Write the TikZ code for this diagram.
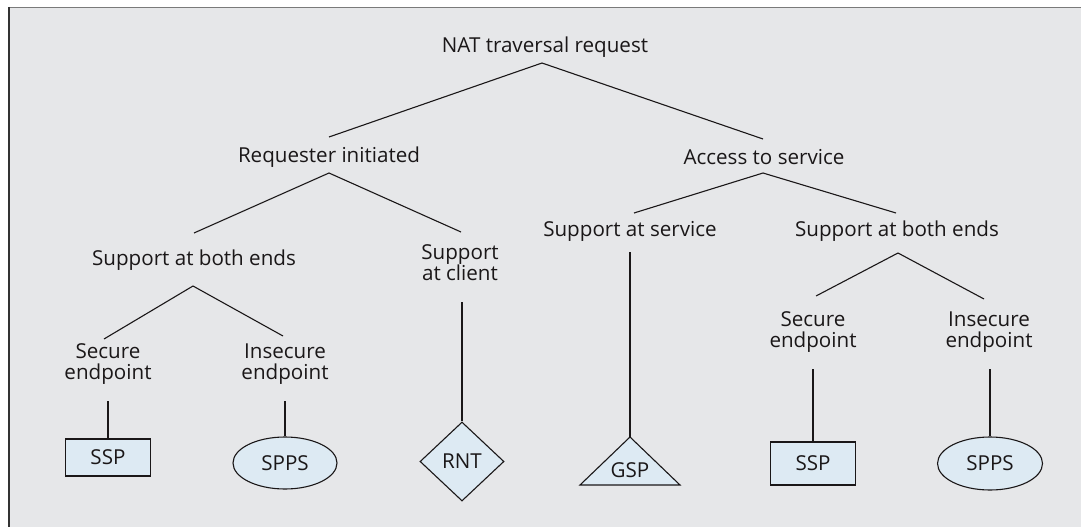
\documentclass[tikz,border=0pt]{standalone}
\usepackage{fontspec}
\setmainfont{Open Sans}
\usetikzlibrary{shapes.geometric}

\definecolor{panel}{HTML}{E6E7E9}
\definecolor{shapefill}{HTML}{DDEAF3}
\definecolor{ink}{HTML}{1A1718}
\definecolor{rulegray}{HTML}{7A7A7A}
\definecolor{ruledark}{HTML}{333333}

\tikzset{
  lbl/.style={font=\fontsize{20.6}{21}\selectfont, align=center, inner sep=0pt, text=ink},
  edge/.style={draw=ink, line width=1.1pt},
  leaf/.style={draw=ink, fill=shapefill, line width=1.1pt, inner sep=0pt,
               font=\fontsize{20.6}{21}\selectfont, text=ink},
  leafbox/.style={leaf, rectangle, minimum width=85pt},
  leafoval/.style={leaf, ellipse},
  leafdiamond/.style={leaf, diamond, minimum width=84pt, minimum height=79pt}
}

\begin{document}
\begin{tikzpicture}[x=1pt, y=-1pt]
\useasboundingbox (0,0) rectangle (1081,527);

% panel with its top and left rules
\fill[panel] (8.5,7.5) rectangle (1081,527);
\draw[rulegray, line width=1.6pt] (8,7.5) -- (1081,7.5);
\draw[ruledark, line width=1.6pt] (8.7,7) -- (8.7,527);

% ---- labels ----
\node[lbl] (nat) at (545,47)  {NAT traversal request};
\node[lbl] (req) at (329,157) {Requester initiated};
\node[lbl] (acc) at (764,157) {Access to service};
\node[lbl] (sbl) at (194,260) {Support at both ends};
\node[lbl] (scl) at (460,262.5) {Support\\at client};
\node[lbl] (sas) at (630,231) {Support at service};
\node[lbl] (sbr) at (897,231) {Support at both ends};
\node[lbl] (sel) at (108,364.5) {Secure\\endpoint};
\node[lbl] (iel) at (285,364.5) {Insecure\\endpoint};
\node[lbl] (ser) at (813,332.5) {Secure\\endpoint};
\node[lbl] (ier) at (989,332.5) {Insecure\\endpoint};

% ---- leaf shapes ----
\node[leafbox, minimum height=37pt] (ssp1) at (108,457.5) {SSP};
\node[leafoval, minimum width=104pt, minimum height=52pt] (spps1) at (285,463) {SPPS};
\node[leafdiamond] (rnt) at (462,461.5) {RNT};
\coordinate (gsptop) at (630,437);
\filldraw[draw=ink, fill=shapefill, line width=1.1pt, line join=miter]
  (gsptop) -- (680,485) -- (580,485) -- cycle;
\node[lbl] (gsp) at (630,470) {GSP};
\node[leafbox, minimum height=43pt] (ssp2) at (813,463.5) {SSP};
\node[leafoval, minimum width=105pt, minimum height=53pt] (spps2) at (990,463.5) {SPPS};

% ---- connector end points under and over the labels ----
\coordinate (nat-b) at (542,63);
\coordinate (req-t) at (329,137);
\coordinate (req-b) at (329,173);
\coordinate (acc-t) at (763,139);
\coordinate (acc-b) at (763,173);
\coordinate (sbl-t) at (194,233);
\coordinate (sbl-b) at (193,286);
\coordinate (scl-t) at (461,232);
\coordinate (scl-b) at (462,302);
\coordinate (sas-t) at (634,213);
\coordinate (sas-b) at (630,252);
\coordinate (sbr-t) at (896,213);
\coordinate (sbr-b) at (898,253);
\coordinate (sel-t) at (104,339);
\coordinate (sel-b) at (108,401);
\coordinate (iel-t) at (283,336);
\coordinate (iel-b) at (285,401);
\coordinate (ser-t) at (816,296);
\coordinate (ser-b) at (813,369);
\coordinate (ier-t) at (984,299);
\coordinate (ier-b) at (990,369);

% ---- tree connectors ----
\draw[edge] (req-t) -- (nat-b) -- (acc-t);
\draw[edge] (sbl-t) -- (req-b) -- (scl-t);
\draw[edge] (sas-t) -- (acc-b) -- (sbr-t);
\draw[edge] (sel-t) -- (sbl-b) -- (iel-t);
\draw[edge] (ser-t) -- (sbr-b) -- (ier-t);

\draw[edge] (sel-b) -- (ssp1.north);
\draw[edge] (iel-b) -- (spps1.north);
\draw[edge] (scl-b) -- (rnt.north);
\draw[edge] (sas-b) -- (gsptop);
\draw[edge] (ser-b) -- (ssp2.north);
\draw[edge] (ier-b) -- (spps2.north);
\end{tikzpicture}
\end{document}
